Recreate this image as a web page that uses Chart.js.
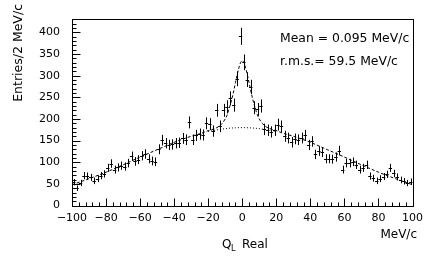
<!DOCTYPE html>
<html>
<head>
<meta charset="utf-8">
<script src="https://cdn.jsdelivr.net/npm/chart.js@4.4.1/dist/chart.umd.min.js"></script>
<style>
  html, body { margin: 0; padding: 0; background: #fff; }
  #wrap { width: 429px; height: 257px; }
</style>
</head>
<body>
<div id="wrap"><canvas id="chart" width="429" height="257"></canvas></div>
<script>
// Histogram: 100 bins of 2 MeV/c from -100 to 100
const xMin = -100, xMax = 100, binWidth = 2;
const yMax = 432;

// entries per bin, left to right
const counts = [
  54, 40, 52, 69, 68, 65, 57, 62, 69, 73,
  87, 97, 83, 88, 92, 90, 98, 114, 102, 106,
  115, 119, 108, 103, 101, 130, 151, 144, 140, 141,
  144, 145, 155, 152, 192, 152, 162, 165, 163, 190,
  188, 172, 220, 183, 220, 228, 248, 232, 293, 391,
  331, 291, 274, 226, 222, 230, 176, 174, 170, 174,
  187, 183, 160, 156, 146, 154, 152, 156, 162, 140,
  148, 118, 126, 123, 108, 108, 107, 112, 127, 83,
  98, 98, 101, 94, 83, 87, 94, 68, 63, 57,
  62, 67, 72, 87, 74, 66, 59, 56, 52, 55
];

// fit curve (dashed): background + peak
const fitX = [-100, -90, -80, -70, -60, -50, -40, -30, -24, -20, -16, -14, -12, -10, -9, -8, -7, -6, -5, -4, -3, -2, -1, 0,
              1, 2, 3, 4, 5, 6, 7, 8, 9, 10, 12, 14, 16, 20, 24, 30, 40, 50, 60, 70, 80, 90, 100];
const fitY = [48, 62, 77, 94, 112, 129, 146, 160, 167, 173, 178, 182, 189, 200, 208, 220, 233, 248, 265, 284, 302, 318, 330, 335,
              330, 318, 302, 284, 265, 248, 233, 220, 208, 200, 189, 182, 178, 173, 167, 160, 146, 129, 112, 94, 77, 62, 48];

// background only (dotted), visible under the peak
const bgX = [-20, -16, -12, -8, -4, 0, 4, 8, 12, 16, 20];
const bgY = [171, 174, 176.5, 178.5, 179.6, 180, 179.6, 178.5, 176.5, 174, 171];

const xTickLabels = [-100, -80, -60, -40, -20, 0, 20, 40, 60, 80, 100];
const yTickLabels = [0, 50, 100, 150, 200, 250, 300, 350, 400];
const statLines = ['Mean = 0.095 MeV/c', 'r.m.s.= 59.5 MeV/c'];

const FONT = '"DejaVu Sans", sans-serif';
Chart.defaults.font.family = FONT;
Chart.defaults.color = '#000';

// bin centres
const centers = counts.map((_, i) => xMin + binWidth * (i + 0.5));

function fmtTick(v) {
    return v < 0 ? '\u2212' + Math.abs(v) : String(v);
}

// error crosses, frame, inward ticks and texts
const histPlugin = {
    id: 'hist',
    afterDatasetsDraw(chart) {
        const ctx = chart.ctx;
        const meta = chart.getDatasetMeta(0);
        const xs = chart.scales.x, ys = chart.scales.y;
        const half = (xs.getPixelForValue(binWidth) - xs.getPixelForValue(0)) / 2;
        ctx.save();
        ctx.strokeStyle = '#000';
        ctx.lineWidth = 1;
        ctx.beginPath();
        meta.data.forEach((pt, i) => {
            const n = counts[i];
            const err = Math.sqrt(n);
            const px = Math.round(pt.x) + 0.5;
            const py = Math.round(pt.y) + 0.5;
            ctx.moveTo(px, ys.getPixelForValue(n + err));
            ctx.lineTo(px, ys.getPixelForValue(n - err));
            ctx.moveTo(pt.x - half, py);
            ctx.lineTo(pt.x + half, py);
        });
        ctx.stroke();
        ctx.restore();
    },
    afterDraw(chart) {
        const ctx = chart.ctx;
        const a = chart.chartArea;
        const xs = chart.scales.x, ys = chart.scales.y;
        const L = Math.round(a.left) + 0.5, R = Math.round(a.right) + 0.5;
        const T = Math.round(a.top) + 0.5, B = Math.round(a.bottom) + 0.5;
        ctx.save();
        ctx.strokeStyle = '#000';
        ctx.lineWidth = 1;
        ctx.strokeRect(L, T, R - L, B - T);

        ctx.beginPath();
        xs.ticks.forEach(t => {
            const px = Math.round(xs.getPixelForValue(t.value)) + 0.5;
            const len = xTickLabels.includes(t.value) ? 8 : 4;
            ctx.moveTo(px, B);
            ctx.lineTo(px, B - len);
        });
        ys.ticks.forEach(t => {
            const py = Math.round(ys.getPixelForValue(t.value)) + 0.5;
            const len = yTickLabels.includes(t.value) ? 8 : 4;
            ctx.moveTo(L, py);
            ctx.lineTo(L + len, py);
        });
        ctx.stroke();

        ctx.fillStyle = '#000';
        ctx.font = '12.4px ' + FONT;
        ctx.textBaseline = 'alphabetic';
        ctx.textAlign = 'left';
        ctx.fillText(statLines[0], 280, 42);
        ctx.fillText(statLines[1], 280, 65);

        ctx.font = '12px ' + FONT;
        ctx.textAlign = 'right';
        ctx.fillText('MeV/c', 417, 238);

        // x title: Q with subscript L
        ctx.textAlign = 'left';
        ctx.fillText('Q', 222, 248);
        ctx.font = '8px ' + FONT;
        ctx.fillText('L', 231, 251);
        ctx.font = '12px ' + FONT;
        ctx.fillText('Real', 242, 248);

        // y title, aligned to the top of the axis
        ctx.font = '12.5px ' + FONT;
        ctx.translate(21.5, 4);
        ctx.rotate(-Math.PI / 2);
        ctx.textAlign = 'right';
        ctx.fillText('Entries/2 MeV/c', 0, 0);
        ctx.restore();
    }
};

new Chart(document.getElementById('chart'), {
    type: 'scatter',
    data: {
        datasets: [
            {
                label: 'data',
                data: counts.map((n, i) => ({ x: centers[i], y: n })),
                pointRadius: 0,
                showLine: false
            },
            {
                type: 'line',
                label: 'fit',
                data: fitX.map((x, i) => ({ x: x, y: fitY[i] })),
                borderColor: '#000',
                borderWidth: 1,
                borderDash: [3, 2],
                pointRadius: 0,
                cubicInterpolationMode: 'monotone',
                fill: false
            },
            {
                type: 'line',
                label: 'background',
                data: bgX.map((x, i) => ({ x: x, y: bgY[i] })),
                borderColor: '#000',
                borderWidth: 1,
                borderDash: [1, 2],
                pointRadius: 0,
                cubicInterpolationMode: 'monotone',
                fill: false
            }
        ]
    },
    options: {
        responsive: false,
        animation: false,
        devicePixelRatio: 1,
        layout: { padding: { top: 4, right: 11, left: 0, bottom: 0 } },
        plugins: { legend: { display: false }, tooltip: { enabled: false } },
        scales: {
            x: {
                type: 'linear',
                min: xMin,
                max: xMax,
                grid: { display: false, drawTicks: false },
                border: { display: false },
                ticks: {
                    stepSize: 4,
                    autoSkip: false,
                    maxRotation: 0,
                    padding: 6,
                    font: { size: 11 },
                    callback: v => xTickLabels.includes(v) ? fmtTick(v) : ''
                },
                afterFit: s => { s.height = 51.5; }
            },
            y: {
                type: 'linear',
                min: 0,
                max: yMax,
                grid: { display: false, drawTicks: false },
                border: { display: false },
                ticks: {
                    stepSize: 10,
                    includeBounds: false,
                    autoSkip: false,
                    padding: 12,
                    font: { size: 11 },
                    callback: v => yTickLabels.includes(v) ? String(v) : ''
                },
                afterFit: s => { s.width = 72; }
            }
        }
    },
    plugins: [histPlugin]
});
</script>
</body>
</html>
